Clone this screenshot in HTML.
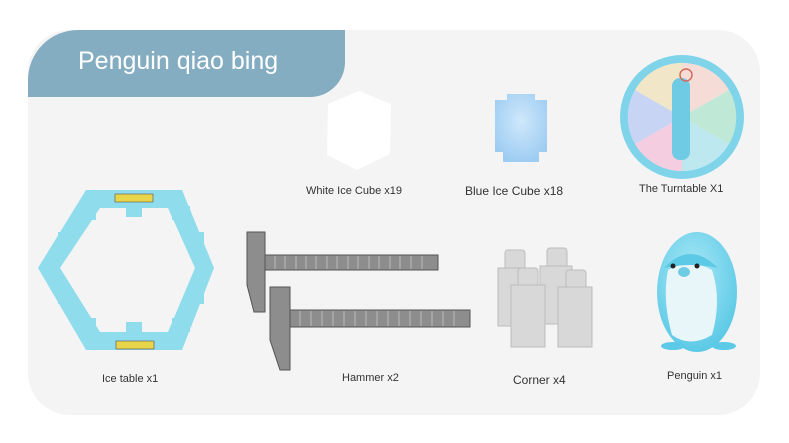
<!DOCTYPE html>
<html><head><style>
html,body{margin:0;padding:0;background:#fff;width:789px;height:443px;overflow:hidden}
svg{display:block}
text{font-family:"Liberation Sans",sans-serif;fill:#333}
</style></head><body>
<svg width="789" height="443" viewBox="0 0 789 443">
<defs>
<radialGradient id="bc" cx="50%" cy="40%" r="60%"><stop offset="0" stop-color="#cfe8fb"/><stop offset="1" stop-color="#9fcdf2"/></radialGradient>
<radialGradient id="pg" cx="45%" cy="35%" r="65%"><stop offset="0" stop-color="#a9e8f6"/><stop offset="1" stop-color="#5cc9e6"/></radialGradient>
</defs>
<rect x="28" y="30" width="732" height="385" rx="42" fill="#f4f4f4"/>
<path d="M78 30 H345 V62 A35 35 0 0 1 310 97 H28 V80 A50 50 0 0 1 78 30 Z" fill="#85adc1"/>
<text x="78" y="69" font-size="25" style="fill:#fff">Penguin qiao bing</text>

<!-- ice table -->
<polygon points="86,190 182,190 214,268 182,350 86,350 38,268" fill="#8fdcec"/>
<polygon points="100,208 168,208 195,268 168,332 100,332 60,268" fill="#f4f4f4"/>
<g fill="#8fdcec">
<rect x="126" y="205" width="16" height="12"/><rect x="126" y="322" width="16" height="12"/>
<rect x="58" y="232" width="14" height="14"/><rect x="58" y="290" width="14" height="14"/>
<rect x="190" y="232" width="14" height="14"/><rect x="190" y="290" width="14" height="14"/>
<rect x="78" y="206" width="18" height="14"/><rect x="172" y="206" width="18" height="14"/>
<rect x="78" y="318" width="18" height="14"/><rect x="172" y="318" width="18" height="14"/>
</g>
<rect x="115" y="194" width="38" height="8" fill="#e8d54a" stroke="#555" stroke-width="0.6"/>
<rect x="116" y="341" width="38" height="8" fill="#e8d54a" stroke="#555" stroke-width="0.6"/>
<text x="102" y="382" font-size="11">Ice table x1</text>

<!-- hammers -->
<g fill="#8d8d8d" stroke="#555" stroke-width="1">
<polygon points="247,232 265,232 265,312 254,312 247,285"/>
<rect x="265" y="255" width="173" height="15"/>
<polygon points="270,287 290,287 290,370 280,370 270,340"/>
<rect x="290" y="310" width="180" height="17"/>
</g>
<g stroke="#bbb" stroke-width="1">
<path d="M275 256 V269 M285 256 V269 M296 256 V269 M306 256 V269 M316 256 V269 M327 256 V269 M337 256 V269 M348 256 V269 M358 256 V269 M369 256 V269 M379 256 V269 M390 256 V269 M400 256 V269 M411 256 V269 M422 256 V269"/>
<path d="M300 311 V326 M311 311 V326 M322 311 V326 M333 311 V326 M344 311 V326 M355 311 V326 M366 311 V326 M377 311 V326 M388 311 V326 M399 311 V326 M410 311 V326 M421 311 V326 M432 311 V326 M443 311 V326 M454 311 V326"/>
</g>
<text x="342" y="381" font-size="11">Hammer x2</text>

<!-- white cube -->
<polygon points="359,91 391,104 390,154 357,170 327,155 328,104" fill="#fff"/>
<text x="306" y="194" font-size="11">White Ice Cube x19</text>

<!-- blue cube -->
<path d="M495 100 h12 v-6 h28 v6 h12 v52 h-8 v10 h-36 v-10 h-8 Z" fill="url(#bc)"/>
<text x="465" y="195" font-size="12">Blue Ice Cube x18</text>

<!-- turntable -->
<circle cx="682" cy="117" r="62" fill="#7fd4ea"/>
<circle cx="682" cy="117" r="54" fill="#eef6f8"/>
<path d="M682 117 L682 63 A54 54 0 0 1 729 90Z" fill="#f6dcd6"/>
<path d="M682 117 L729 90 A54 54 0 0 1 729 144Z" fill="#bfe9d6"/>
<path d="M682 117 L729 144 A54 54 0 0 1 682 171Z" fill="#bde8f0"/>
<path d="M682 117 L682 171 A54 54 0 0 1 635 144Z" fill="#f4cde0"/>
<path d="M682 117 L635 144 A54 54 0 0 1 635 90Z" fill="#c8d4f4"/>
<path d="M682 117 L635 90 A54 54 0 0 1 682 63Z" fill="#f2e6c8"/>
<rect x="672" y="78" width="18" height="82" rx="8" fill="#6fcbe4"/>
<circle cx="686" cy="75" r="6" fill="none" stroke="#d46a5a" stroke-width="1.5"/>
<text x="639" y="192" font-size="11">The Turntable X1</text>

<!-- corners -->
<g fill="#d8d8d8" stroke="#bdbdbd" stroke-width="1">
<rect x="505" y="250" width="20" height="20" rx="3"/><path d="M498 268 h32 v58 h-32 Z"/>
<rect x="547" y="248" width="20" height="20" rx="3"/><path d="M540 266 h32 v58 h-32 Z"/>
<rect x="518" y="268" width="20" height="20" rx="3"/><path d="M511 285 h34 v62 h-34 Z"/>
<rect x="566" y="270" width="20" height="20" rx="3"/><path d="M558 287 h34 v60 h-34 Z"/>
</g>
<text x="513" y="384" font-size="12">Corner x4</text>

<!-- penguin -->
<ellipse cx="697" cy="292" rx="40" ry="60" fill="url(#pg)"/>
<path d="M668 270 Q690 258 712 270 Q722 300 712 335 Q690 348 672 335 Q662 300 668 270Z" fill="#e8f6fa"/>
<path d="M664 268 Q690 240 718 268 Q690 262 664 268Z" fill="#5cc9e6"/>
<circle cx="673" cy="266" r="2.5" fill="#222"/><circle cx="697" cy="266" r="2.5" fill="#222"/>
<ellipse cx="684" cy="272" rx="6" ry="5" fill="#6dcbe4"/>
<ellipse cx="673" cy="346" rx="12" ry="4" fill="#5cc9e6"/><ellipse cx="724" cy="346" rx="12" ry="4" fill="#5cc9e6"/>
<text x="667" y="379" font-size="11">Penguin x1</text>
</svg>
</body></html>
